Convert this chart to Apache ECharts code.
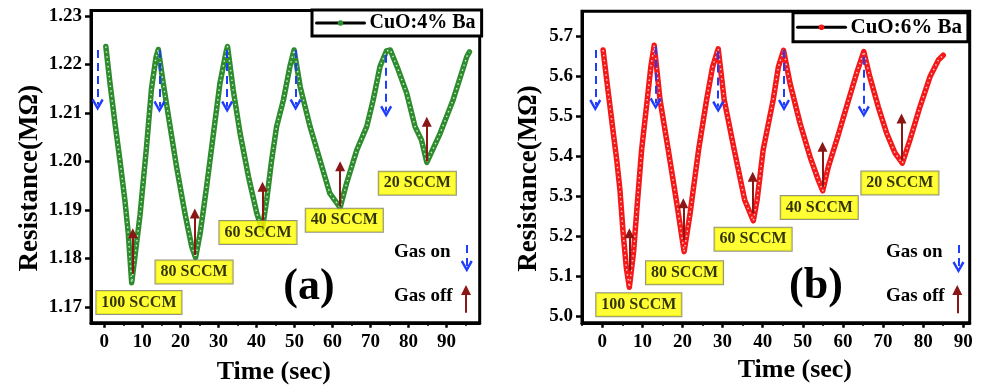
<!DOCTYPE html>
<html>
<head>
<meta charset="utf-8">
<script src="https://cdn.jsdelivr.net/npm/echarts@6/dist/echarts.min.js"></script>
<style>
  html, body { margin: 0; padding: 0; background: #fff; }
  #chart { width: 983px; height: 390px; }
</style>
</head>
<body>
<div id="chart"></div>
<script>
// readings taken off the two response curves (time in s, resistance in MOhm)
const timeA = [0.4, 1.5, 2.8, 4.1, 5.4, 6.3, 7.2, 9.4, 11.1, 12.4, 13.6, 14.2, 15.5, 17.3, 19.0, 21.2, 23.0, 24.0, 25.2, 26.9, 28.7, 30.4, 32.0, 32.4, 33.9, 35.7, 37.9, 40.1, 41.5, 42.7, 44.0, 45.3, 47.1, 48.8, 49.9, 51.5, 54.1, 56.7, 59.3, 62.0, 63.7, 66.4, 69.0, 70.7, 72.5, 74.2, 75.2, 77.0, 79.5, 81.7, 83.4, 84.8, 88.3, 91.7, 95.3, 96.0];
const resA = [1.2237, 1.2161, 1.2079, 1.2003, 1.1921, 1.1852, 1.1750, 1.1890, 1.2030, 1.2150, 1.2215, 1.2231, 1.2161, 1.2072, 1.1989, 1.1893, 1.1824, 1.1802, 1.1852, 1.1948, 1.2058, 1.2161, 1.2225, 1.2237, 1.2147, 1.2058, 1.1969, 1.1893, 1.1859, 1.1921, 1.2003, 1.2072, 1.2127, 1.2196, 1.2230, 1.2154, 1.2072, 1.2003, 1.1934, 1.1905, 1.1955, 1.2024, 1.2072, 1.2127, 1.2196, 1.2228, 1.2230, 1.2195, 1.2141, 1.2072, 1.2044, 1.1998, 1.2058, 1.2127, 1.2216, 1.2226];

const timeB = [0.2, 1.1, 2.75, 3.6, 4.4, 5.2, 6.0, 6.75, 7.8, 8.8, 9.8, 11.2, 12.1, 12.95, 14.4, 16.45, 18.6, 20.4, 21.9, 23.0, 24.0, 26.0, 27.5, 28.9, 30.4, 32.9, 35.5, 37.65, 38.6, 40.1, 42.6, 43.9, 45.2, 46.8, 49.3, 51.8, 53.85, 54.95, 56.35, 58.45, 60.9, 63.4, 65.2, 66.7, 68.8, 70.9, 73.0, 74.8, 76.7, 79.2, 81.7, 83.8, 85.0];
const resB = [5.665, 5.590, 5.457, 5.390, 5.315, 5.207, 5.120, 5.072, 5.160, 5.290, 5.415, 5.540, 5.623, 5.677, 5.540, 5.415, 5.280, 5.161, 5.257, 5.340, 5.415, 5.540, 5.623, 5.668, 5.540, 5.415, 5.290, 5.238, 5.290, 5.415, 5.540, 5.623, 5.664, 5.582, 5.482, 5.398, 5.340, 5.313, 5.373, 5.440, 5.523, 5.607, 5.661, 5.598, 5.523, 5.457, 5.407, 5.382, 5.440, 5.523, 5.598, 5.640, 5.652];

// axis ticks
const xTicks = [0, 10, 20, 30, 40, 50, 60, 70, 80, 90];
const xMinorTicks = [-5, 5, 15, 25, 35, 45, 55, 65, 75, 85, 95];
const yTicksA = [1.17, 1.18, 1.19, 1.20, 1.21, 1.22, 1.23];
const yTicksB = [5.0, 5.1, 5.2, 5.3, 5.4, 5.5, 5.6, 5.7];

// flow-rate tags: text and [time, resistance] where each sits
const flowLabels = ['100 SCCM', '80 SCCM', '60 SCCM', '40 SCCM', '20 SCCM'];
const tagPosA = [[9.1, 1.1709], [23.6, 1.1772], [40.4, 1.18535], [63.1, 1.1879], [82.3, 1.1955]];
const tagPosB = [[9.1, 5.0283], [20.5, 5.108], [37.6, 5.192], [54.1, 5.271], [74.2, 5.3325]];

// gas on (blue dashed, down) / gas off (dark red, up): [time, from, to]
const gasOnA = [[-1.75, 1.2230, 1.2117], [14.5, 1.2230, 1.2113], [32.3, 1.2230, 1.2113], [50.3, 1.2230, 1.2117], [74.1, 1.2220, 1.2103], [95.3, 1.1828, 1.1784]];
const gasOffA = [[7.5, 1.1769, 1.1852], [23.8, 1.1807, 1.1893], [41.6, 1.1859, 1.1948], [62.0, 1.1907, 1.1990], [84.8, 1.2000, 1.2082], [95.1, 1.1688, 1.1735]];
const gasOnB = [[-1.75, 5.665, 5.527], [13.3, 5.673, 5.531], [28.9, 5.661, 5.523], [45.3, 5.665, 5.527], [65.2, 5.648, 5.511], [88.8, 5.1775, 5.122]];
const gasOffB = [[6.75, 5.113, 5.207], [20.2, 5.190, 5.282], [37.5, 5.257, 5.348], [54.9, 5.323, 5.423], [74.6, 5.390, 5.494], [88.5, 5.0067, 5.065]];

const serif = '"Liberation Serif", "Times New Roman", serif';
const blue = '#1f3dff';
const maroon = '#8b1616';
const openV = 'path://M0,8 L5,0 L10,8 L8.3,9.2 L5,3.6 L1.7,9.2 Z';

const chart = echarts.init(document.getElementById('chart'));

const option = {
  animation: false,
  backgroundColor: '#fff',
  grid: [], xAxis: [], yAxis: [], series: [], legend: [], graphic: []
};

function boldText(size) {
  return { color: '#000', fontFamily: serif, fontWeight: 'bold', fontSize: size };
}

function arrowLines(list) {
  return list.map(a => [{ coord: [a[0], a[1]] }, { coord: [a[0], a[2]] }]);
}

function addPanel(i, p) {
  option.grid.push({
    left: p.grid[0], top: p.grid[1], width: p.grid[2], height: p.grid[3],
    show: true, borderColor: '#000', borderWidth: 3
  });
  option.xAxis.push({
    type: 'value', gridIndex: i, min: p.xRange[0], max: p.xRange[1],
    axisLine: { show: true, onZero: false, lineStyle: { color: '#000', width: 3 } },
    axisTick: { show: true, customValues: xTicks, length: 5, lineStyle: { color: '#000', width: 2.5 } },
    axisLabel: Object.assign({ show: true, customValues: xTicks, margin: 10 }, boldText(19)),
    splitLine: { show: false },
    name: 'Time (sec)', nameLocation: 'middle', nameGap: p.xNameGap,
    nameTextStyle: Object.assign({ padding: p.xNamePad }, boldText(26))
  });
  // second x axis only carries the small in-between ticks
  option.xAxis.push({
    type: 'value', gridIndex: i, min: p.xRange[0], max: p.xRange[1], position: 'bottom',
    axisLine: { show: false },
    axisTick: { show: true, customValues: xMinorTicks.filter(v => v > p.xRange[0] && v < p.xRange[1]), length: 3, lineStyle: { color: '#000', width: 2 } },
    axisLabel: { show: false },
    splitLine: { show: false }
  });
  option.yAxis.push({
    type: 'value', gridIndex: i, min: p.yRange[0], max: p.yRange[1],
    axisLine: { show: true, onZero: false, lineStyle: { color: '#000', width: 3 } },
    axisTick: { show: true, customValues: p.yTicks, length: 6, lineStyle: { color: '#000', width: 2.5 } },
    axisLabel: Object.assign({ show: true, customValues: p.yTicks, margin: 9, formatter: v => v.toFixed(p.digits) }, boldText(19)),
    splitLine: { show: false },
    name: 'Resistance(MΩ)', nameLocation: 'middle', nameGap: p.yNameGap,
    nameTextStyle: Object.assign({ padding: [0, 23, 0, 0] }, boldText(27))
  });
  const xi = i * 2;
  const pts = p.time.map((t, k) => [t, p.res[k]]);
  option.series.push({
    name: p.name, type: 'line', xAxisIndex: xi, yAxisIndex: i, data: pts,
    symbol: 'none', z: 2,
    lineStyle: { color: p.color, width: 5.5, join: 'round', cap: 'round' }
  });
  // light centres of the hollow circle chain
  option.series.push({
    name: p.name + ' ', type: 'line', xAxisIndex: xi, yAxisIndex: i, data: pts,
    symbol: 'none', z: 3, silent: true,
    lineStyle: { color: p.tint, width: 1.5, type: [1.5, 3.4], join: 'round' }
  });
  option.series.push({
    type: 'line', xAxisIndex: xi, yAxisIndex: i, data: [], z: 6, silent: true,
    markLine: {
      silent: true, symbol: ['none', openV], symbolSize: 12, label: { show: false },
      lineStyle: { color: blue, width: 2, type: [8, 5] },
      data: arrowLines(p.gasOn)
    }
  });
  option.series.push({
    type: 'line', xAxisIndex: xi, yAxisIndex: i, data: [], z: 6, silent: true,
    markLine: {
      silent: true, symbol: ['none', 'triangle'], symbolSize: 10, label: { show: false },
      lineStyle: { color: maroon, width: 2, type: 'solid' },
      data: arrowLines(p.gasOff)
    }
  });
  option.series.push({
    type: 'scatter', xAxisIndex: xi, yAxisIndex: i, z: 8, silent: true,
    symbolSize: 1, itemStyle: { color: 'rgba(0,0,0,0)' },
    data: p.tags.map((c, k) => ({ value: c, name: flowLabels[k] })),
    label: Object.assign({
      show: true, position: 'inside', formatter: '{b}',
      backgroundColor: '#ffff00', borderColor: '#777766', borderWidth: 1,
      padding: [3, 5, 2, 5], lineHeight: 18
    }, boldText(16))
  });
  option.legend.push({
    data: [p.name], left: p.legend[0], top: p.legend[1],
    itemWidth: 48, itemHeight: 7, selectedMode: false,
    padding: p.legend[2], borderColor: '#000', borderWidth: 3, backgroundColor: '#fff',
    lineStyle: { color: '#000', width: 3 },
    itemStyle: { color: p.color, borderWidth: 0 },
    textStyle: boldText(p.legend[3])
  });
  const lab = p.textPos;
  option.graphic.push(
    { type: 'text', x: lab[0], y: 252.5, style: { text: 'Gas on', font: 'bold 19px ' + serif, fill: '#000', verticalAlign: 'middle', textVerticalAlign: 'middle' } },
    { type: 'text', x: lab[0], y: 296, style: { text: 'Gas off', font: 'bold 19px ' + serif, fill: '#000', verticalAlign: 'middle', textVerticalAlign: 'middle' } },
    { type: 'text', x: lab[1], y: lab[2], style: { text: p.letter, font: 'bold 44px ' + serif, fill: '#000', align: 'center', textAlign: 'center', verticalAlign: 'middle', textVerticalAlign: 'middle' } }
  );
}

addPanel(0, {
  name: 'CuO:4% Ba', letter: '(a)', color: '#2e8b2e', tint: 'rgba(215,245,215,0.9)',
  time: timeA, res: resA, tags: tagPosA, gasOn: gasOnA, gasOff: gasOffA,
  grid: [91, 10.5, 388.7, 312.3], xRange: [-3.5, 98.7], yRange: [1.16674, 1.23113],
  yTicks: yTicksA, digits: 2, xNameGap: 36, xNamePad: [0, 23, 0, 0], yNameGap: 47,
  legend: [312, 10, [3, 6, 3, 3], 20], textPos: [394, 309, 288]
});
addPanel(1, {
  name: 'CuO:6% Ba', letter: '(b)', color: '#f41818', tint: 'rgba(255,215,215,0.9)',
  time: timeB, res: resB, tags: tagPosB, gasOn: gasOnB, gasOff: gasOffB,
  grid: [582, 11.3, 387.7, 311.5], xRange: [-5.06, 91.6], yRange: [4.983, 5.7618],
  yTicks: yTicksB, digits: 1, xNameGap: 34, xNamePad: [0, 0, 0, 38], yNameGap: 39,
  legend: [793, 12.7, [4, 6, 4, 3], 21], textPos: [886, 816, 287]
});

chart.setOption(option);
</script>
</body>
</html>
